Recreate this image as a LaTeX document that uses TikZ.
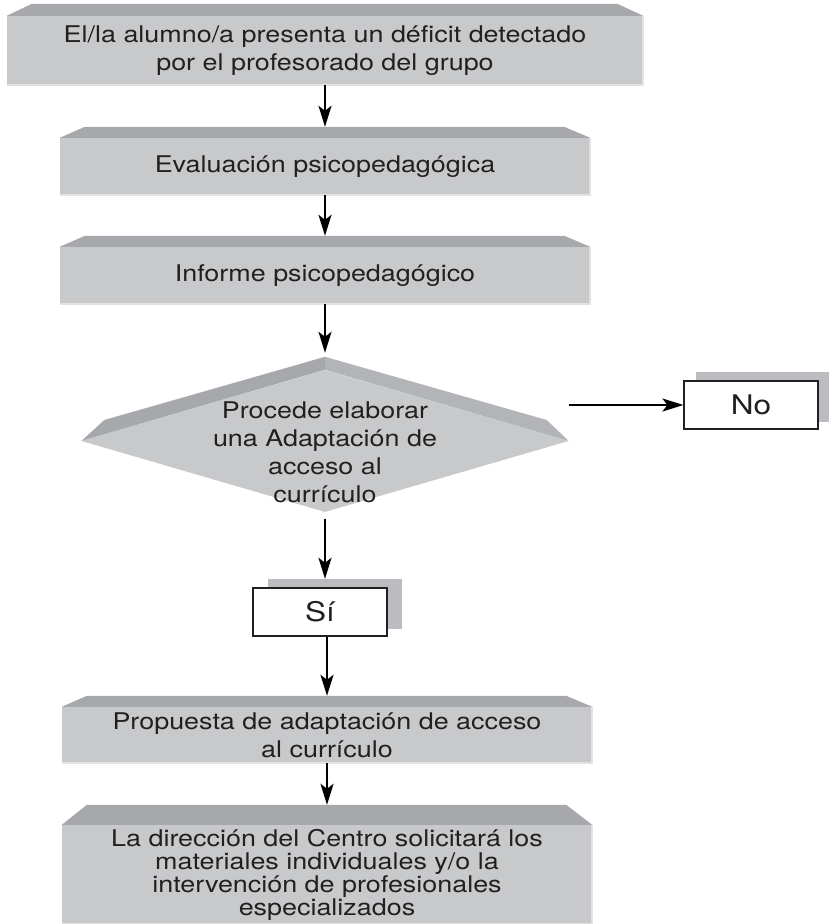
\documentclass[tikz,border=0pt]{standalone}
\usepackage{fontspec}
\setmainfont{TeX Gyre Heros}[FakeStretch=1.17]
\usetikzlibrary{shapes.geometric,arrows.meta,calc}
\definecolor{face}{HTML}{C8C9CB}
\definecolor{bev}{HTML}{A7A8AB}
\definecolor{bevr}{HTML}{B3B4B7}
\definecolor{shad}{HTML}{BBBCBF}
\definecolor{edgec}{HTML}{E2E2E3}
\definecolor{ink}{HTML}{231F20}
\begin{document}
\begin{tikzpicture}[x=1pt,y=-1pt,
  every node/.style={font=\fontsize{23}{28}\selectfont, text=ink},
  facebox/.style={rectangle, fill=face, inner sep=0pt, align=center},
  bevel/.style={fill=bev},
  edgeline/.style={draw=edgec, line width=1.5pt},
  ansbox/.style={rectangle, draw=ink, line width=1.2pt, fill=white, inner sep=0pt,
    minimum width=134pt, minimum height=48pt, font=\fontsize{27}{30}\selectfont},
  shadowbox/.style={rectangle, fill=shad, inner sep=0pt,
    minimum width=134pt, minimum height=50pt},
  arr/.style={draw=black, line width=2pt, -{Stealth[length=21pt,width=13pt,inset=5pt]}}]
\useasboundingbox (0,0) rectangle (829,924);

% rectangles
\node[facebox, minimum width=636pt, minimum height=69pt] (b1) at (325,50.5)
  {El/la alumno/a presenta un déficit detectado\\por el profesorado del grupo};
\node[facebox, minimum width=530pt, minimum height=57pt] (b2) at (325,166.5)
  {Evaluación psicopedagógica};
\node[facebox, minimum width=530pt, minimum height=57pt] (b3) at (325,275.5)
  {Informe psicopedagógico};
\node[facebox, minimum width=530pt, minimum height=56pt] (b4) at (327,735)
  {Propuesta de adaptación de acceso\\al currículo};
\node[facebox, minimum width=530pt, minimum height=99pt,
  font=\fontsize{23}{23}\selectfont] (b5) at (327,874.5)
  {La dirección del Centro solicitará los\\materiales individuales y/o la\\intervención de profesionales\\especializados};

% bevels of rectangles
\foreach \b/\h in {b1/12, b2/11, b3/11, b4/11, b5/20}{
  \fill[bevel] (\b.north west) -- ($(\b.north west)+(25,-\h)$)
     -- ($(\b.north east)+(-26,-\h)$) -- (\b.north east) -- cycle;
  \draw[edgeline] (\b.north east) -- (\b.south east) -- (\b.south west);
  \coordinate (\b top) at ($(\b.north)+(0,-\h)$);
}

% decision diamond
\node[diamond, fill=face, inner sep=0pt, minimum width=487pt, minimum height=142pt] (d) at (325,441) {};
\fill[bevel] (d.west) -- ($(d.west)+(23,-21)$) -- ($(d.north)+(0,-13)$) -- (d.north) -- cycle;
\fill[bevr] (d.north) -- ($(d.north)+(0,-13)$) -- ($(d.east)+(-22,-21)$) -- (d.east) -- cycle;
\coordinate (dtop) at ($(d.north)+(0,-13)$);
\node[align=center] (dt) at (325,452) {Procede elaborar\\una Adaptación de\\acceso al\\currículo};

% answer boxes
\node[shadowbox] (nosh) at (763,397) {};
\node[ansbox] (no) at (751,405) {No};
\node[shadowbox] (sish) at (334.5,604) {};
\node[ansbox] (si) at (320,612) {Sí};

% connectors
\draw[arr] (b1.south) -- (b2top);
\draw[arr] (b2.south) -- (b3top);
\draw[arr, shorten >=4pt] (b3.south) -- (dtop);
\draw[arr] (d.east |- no.west) -- (no.west);
\draw[arr] ($(d.south)+(0,7)$) -- (d.south |- sish.north);
\draw[arr] (b4top |- si.south) -- (b4top);
\draw[arr] (b4.south) -- (b5top);
\end{tikzpicture}
\end{document}
